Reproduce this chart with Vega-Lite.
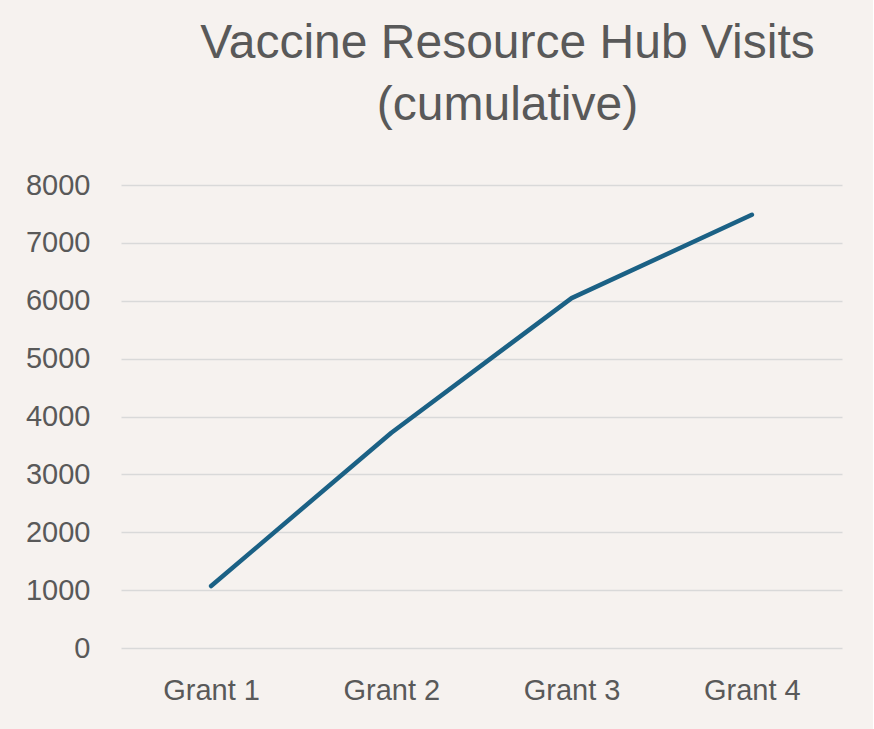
{
  "$schema": "https://vega.github.io/schema/vega-lite/v6.json",
  "width": 721,
  "height": 463,
  "padding": {"left": 25, "top": 20, "right": 31, "bottom": 28},
  "background": "#F6F2EF",
  "title": {
    "text": ["Vaccine Resource Hub Visits", "(cumulative)"],
    "font": "Liberation Sans",
    "fontSize": 48,
    "fontWeight": "normal",
    "color": "#595959",
    "lineHeight": 62,
    "anchor": "middle",
    "dx": 26,
    "offset": 41
  },
  "data": {
    "values": [
      {"grant": "Grant 1", "visits": 1070},
      {"grant": "Grant 2", "visits": 3720},
      {"grant": "Grant 3", "visits": 6045},
      {"grant": "Grant 4", "visits": 7485}
    ]
  },
  "mark": {"type": "line", "color": "#1B6185", "strokeWidth": 4.5, "strokeCap": "round", "strokeJoin": "round"},
  "encoding": {
    "x": {
      "field": "grant",
      "type": "ordinal",
      "scale": {"type": "point", "padding": 0.5},
      "axis": {"title": null, "labelAngle": 0, "grid": false, "domain": false, "ticks": false, "labelPadding": 28, "labelFontSize": 29}
    },
    "y": {
      "field": "visits",
      "type": "quantitative",
      "scale": {"domain": [0, 8000]},
      "axis": {"title": null, "values": [0, 1000, 2000, 3000, 4000, 5000, 6000, 7000, 8000], "format": "d", "grid": true, "domain": false, "ticks": false, "labelPadding": 31, "labelFontSize": 29}
    }
  },
  "config": {
    "view": {"stroke": null},
    "axis": {
      "labelFont": "Liberation Sans",
      "labelColor": "#595959",
      "gridColor": "#D9D9D9",
      "gridWidth": 1.5
    }
  }
}
